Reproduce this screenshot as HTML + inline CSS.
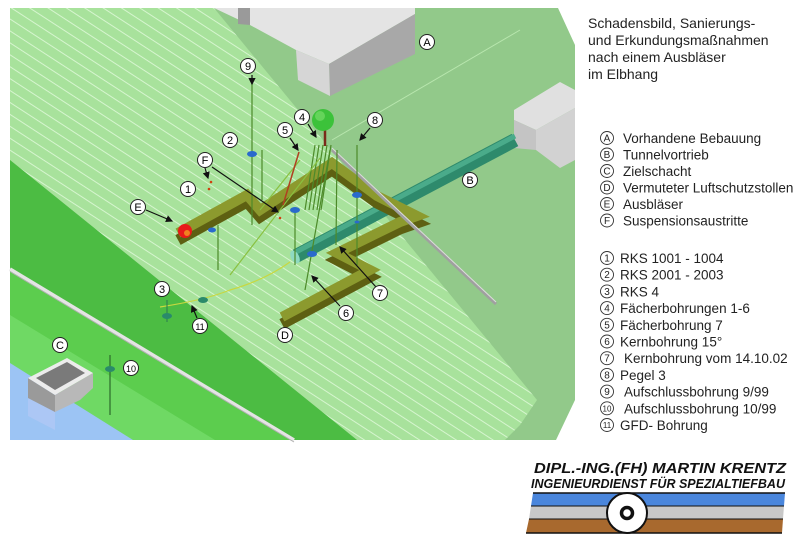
<!DOCTYPE html>
<html><head><meta charset="utf-8"><style>
html,body{margin:0;padding:0;background:#fff;}
svg{display:block;font-family:"Liberation Sans",sans-serif;}
</style></head><body>
<svg width="800" height="552" viewBox="0 0 800 552" xmlns="http://www.w3.org/2000/svg">
<defs>
<pattern id="st" width="40" height="10" patternUnits="userSpaceOnUse" patternTransform="rotate(33)">
<rect width="40" height="10" fill="#a8e29c"/>
<line x1="0" y1="0.5" x2="40" y2="0.5" stroke="#d6f5cf" stroke-width="1"/>
</pattern>
<marker id="ar" markerWidth="6" markerHeight="6" refX="5" refY="3" orient="auto"><path d="M0,0 L6,3 L0,6z" fill="#111"/></marker>
</defs>
<!-- plateau -->
<polygon points="10,8 558,8 575,45 575,400 556,440 10,440" fill="#92c98a"/>
<!-- slope striped -->
<polygon points="10,8 214,8 537,400 520,425 505,440 357,440 10,160" fill="url(#st)"/>
<!-- lower terrace -->
<polygon points="10,160 357,440 293,440 10,270" fill="#4cbc43"/>
<polygon points="10,270 293,440 10,440" fill="#5ccd4e"/>
<polygon points="10,315 215,440 10,440" fill="#6fd964"/>
<polygon points="10,363 133,440 10,440" fill="#9cc4f4"/>
<line x1="10" y1="269" x2="294" y2="440" stroke="#e4e4e4" stroke-width="3.5"/>
<line x1="10" y1="271.5" x2="294" y2="442" stroke="#b0b0b0" stroke-width="1"/>
<!-- plateau line -->
<line x1="332" y1="140" x2="520" y2="30" stroke="#b8e6ae" stroke-width="1"/>
<!-- building A -->
<polygon points="214,8 415,8 415,14 329,64 296,50 250,25" fill="#e4e4e4"/>
<polygon points="238,8 250,8 250,25 238,24" fill="#9a9a9a"/>
<polygon points="329,64 415,14 415,54 330,96" fill="#a8a8a8"/>
<polygon points="296,50 329,64 330,96 298,80" fill="#d6d6d6"/>
<!-- building right -->
<polygon points="514,110 560,82 575,90 575,108 536,130 514,120" fill="#e0e0e0"/>
<polygon points="514,120 536,130 536,150 514,148" fill="#c4c4c4"/>
<polygon points="536,130 575,108 575,160 560,168 536,150" fill="#d2d2d2"/>
<!-- tunnel -->
<line x1="296" y1="256" x2="515" y2="140" stroke="#2e8a6c" stroke-width="14"/>
<line x1="296" y1="252" x2="515" y2="136" stroke="#4aab8a" stroke-width="5"/>
<ellipse cx="295" cy="257" rx="4" ry="7" transform="rotate(-28 295 257)" fill="#8fdac0"/>
<!-- trench -->
<g fill="none" stroke-linejoin="miter">
<polyline points="178,235 247,197 260,212 332,165 377,198 417,218 400,224 337,255 370,272 282,319" stroke="#5e6012" stroke-width="11" transform="translate(0,5)"/>
<polyline points="178,233 247,195 260,210 332,163 377,196 417,216 400,222 337,253 370,270 282,317" stroke="#8c9a2e" stroke-width="10"/>
</g>
<!-- sheet pile wall -->
<line x1="332" y1="150" x2="496" y2="304" stroke="#a0a0a0" stroke-width="3"/>
<line x1="332" y1="148" x2="496" y2="302" stroke="#dcdcdc" stroke-width="1"/>
<!-- tree -->
<line x1="325" y1="128" x2="325" y2="146" stroke="#7a2a1a" stroke-width="2.5"/>
<circle cx="323" cy="120" r="11" fill="#3cc23a"/>
<circle cx="320" cy="116" r="5" fill="#7fe070" opacity="0.6"/>
<!-- borings -->
<g stroke="#4d8a2a" stroke-width="1.2">
<line x1="252" y1="84" x2="252" y2="225"/>
<line x1="262" y1="150" x2="262" y2="200"/>
<line x1="218" y1="225" x2="218" y2="270"/>
<line x1="295" y1="210" x2="295" y2="265"/>
<line x1="357" y1="145" x2="357" y2="265"/>
<line x1="337" y1="150" x2="336" y2="245"/>
<line x1="330" y1="150" x2="305" y2="290"/>
<line x1="315" y1="145" x2="305" y2="210"/>
<line x1="319" y1="145" x2="309" y2="210"/>
<line x1="323" y1="145" x2="313" y2="210"/>
<line x1="327" y1="145" x2="317" y2="210"/>
<line x1="331" y1="145" x2="321" y2="210"/>
<line x1="230" y1="275" x2="320" y2="158" stroke="#8ac040"/>
<line x1="260" y1="210" x2="300" y2="160" stroke="#8ac040"/>
</g>
<line x1="299" y1="152" x2="283" y2="205" stroke="#b04020" stroke-width="1.5"/>
<path d="M160,307 Q205,300 230,290 Q265,280 290,262" fill="none" stroke="#c8d840" stroke-width="1.2"/>
<line x1="167" y1="300" x2="167" y2="322" stroke="#2a7a50"/>
<line x1="110" y1="355" x2="110" y2="415" stroke="#2a6a2a" stroke-width="1.2"/>
<g fill="#2a6acc">
<ellipse cx="252" cy="154" rx="5" ry="3"/>
<ellipse cx="295" cy="210" rx="5" ry="3"/>
<ellipse cx="312" cy="254" rx="5" ry="3"/>
<ellipse cx="357" cy="195" rx="5" ry="3"/>
<ellipse cx="357" cy="222" rx="2.5" ry="1.5"/>
<ellipse cx="212" cy="230" rx="4" ry="2.5"/>
</g>
<g fill="#2a8a6a">
<ellipse cx="203" cy="300" rx="5" ry="3"/>
<ellipse cx="167" cy="316" rx="5" ry="3"/>
<ellipse cx="110" cy="369" rx="5" ry="3"/>
</g>
<circle cx="211" cy="182" r="1.3" fill="#d04010"/>
<circle cx="209" cy="189" r="1.3" fill="#d04010"/>
<circle cx="280" cy="218" r="1.3" fill="#d04010"/>
<!-- E -->
<circle cx="185" cy="231" r="7" fill="#e81a1a"/>
<circle cx="187" cy="233" r="3" fill="#f08020"/>
<!-- shaft C -->
<polygon points="28,398 55,412 55,430 28,416" fill="#b7c9f5" opacity="0.6"/>
<polygon points="28,378 55,395 55,412 28,398" fill="#9a9a9a"/>
<polygon points="55,395 93,373 93,388 80,400 55,412" fill="#b8b8b8"/>
<polygon points="28,378 67,358 93,373 55,395" fill="#ececec"/>
<polygon points="36,378 67,362 85,373 55,390" fill="#7a7a7a"/>
<!-- arrows -->
<g stroke="#111" stroke-width="1.2" marker-end="url(#ar)">
<line x1="252" y1="75" x2="252" y2="84"/>
<line x1="212" y1="167" x2="278" y2="212"/>
<line x1="205" y1="168" x2="208" y2="178"/>
<line x1="146" y1="210" x2="172" y2="221"/>
<line x1="290" y1="138" x2="298" y2="150"/>
<line x1="308" y1="124" x2="316" y2="137"/>
<line x1="370" y1="128" x2="360" y2="140"/>
<line x1="376" y1="287" x2="340" y2="247"/>
<line x1="340" y1="306" x2="312" y2="276"/>
<line x1="197" y1="318" x2="192" y2="306"/>
</g>
<!-- labels -->
<g font-size="11" text-anchor="middle" fill="#000">
<g fill="#fff" stroke="#222" stroke-width="1">
<circle cx="427" cy="42" r="7.5"/><circle cx="470" cy="180" r="7.5"/><circle cx="60" cy="345" r="7.5"/>
<circle cx="285" cy="335" r="7.5"/><circle cx="138" cy="207" r="7.5"/><circle cx="205" cy="160" r="7.5"/>
<circle cx="188" cy="189" r="7.5"/><circle cx="230" cy="140" r="7.5"/><circle cx="162" cy="289" r="7.5"/>
<circle cx="302" cy="117" r="7.5"/><circle cx="285" cy="130" r="7.5"/><circle cx="346" cy="313" r="7.5"/>
<circle cx="380" cy="293" r="7.5"/><circle cx="375" cy="120" r="7.5"/><circle cx="248" cy="66" r="7.5"/>
<circle cx="131" cy="368" r="7.5"/><circle cx="200" cy="326" r="7.5"/>
</g>
<text x="427" y="46">A</text><text x="470" y="184">B</text><text x="60" y="349">C</text>
<text x="285" y="339">D</text><text x="138" y="211">E</text><text x="205" y="164">F</text>
<text x="188" y="193">1</text><text x="230" y="144">2</text><text x="162" y="293">3</text>
<text x="302" y="121">4</text><text x="285" y="134">5</text><text x="346" y="317">6</text>
<text x="380" y="297">7</text><text x="375" y="124">8</text><text x="248" y="70">9</text>
<text x="131" y="372" font-size="9">10</text><text x="200" y="330" font-size="9">11</text>
</g>
<!-- title -->
<g font-size="14" fill="#222">
<text x="588" y="28">Schadensbild, Sanierungs-</text>
<text x="588" y="45">und Erkundungsmaßnahmen</text>
<text x="588" y="62">nach einem Ausbläser</text>
<text x="588" y="79">im Elbhang</text>
</g>
<!-- legend -->
<g font-size="13.5" fill="#222">
<g fill="none" stroke="#333" stroke-width="0.9">
<circle cx="607" cy="138" r="6.5"/><circle cx="607" cy="154.5" r="6.5"/><circle cx="607" cy="171" r="6.5"/>
<circle cx="607" cy="187.5" r="6.5"/><circle cx="607" cy="204" r="6.5"/><circle cx="607" cy="220.5" r="6.5"/>
<circle cx="607" cy="258" r="6.5"/><circle cx="607" cy="274.7" r="6.5"/><circle cx="607" cy="291.4" r="6.5"/>
<circle cx="607" cy="308.1" r="6.5"/><circle cx="607" cy="324.8" r="6.5"/><circle cx="607" cy="341.5" r="6.5"/>
<circle cx="607" cy="358.2" r="6.5"/><circle cx="607" cy="374.9" r="6.5"/><circle cx="607" cy="391.6" r="6.5"/>
<circle cx="607" cy="408.3" r="6.5"/><circle cx="607" cy="425" r="6.5"/>
</g>
<g font-size="10" text-anchor="middle">
<text x="607" y="141.5">A</text><text x="607" y="158">B</text><text x="607" y="174.5">C</text>
<text x="607" y="191">D</text><text x="607" y="207.5">E</text><text x="607" y="224">F</text>
<text x="607" y="261.5">1</text><text x="607" y="278.2">2</text><text x="607" y="294.9">3</text>
<text x="607" y="311.6">4</text><text x="607" y="328.3">5</text><text x="607" y="345">6</text>
<text x="607" y="361.7">7</text><text x="607" y="378.4">8</text><text x="607" y="395.1">9</text>
<text x="607" y="411.5" font-size="8">10</text><text x="607" y="428.2" font-size="8">11</text>
</g>
<text x="623" y="143">Vorhandene Bebauung</text>
<text x="623" y="159.5">Tunnelvortrieb</text>
<text x="623" y="176">Zielschacht</text>
<text x="623" y="192.5">Vermuteter Luftschutzstollen</text>
<text x="623" y="209">Ausbläser</text>
<text x="623" y="225.5">Suspensionsaustritte</text>
<text x="620" y="263">RKS 1001 - 1004</text>
<text x="620" y="279.7">RKS 2001 - 2003</text>
<text x="620" y="296.4">RKS 4</text>
<text x="620" y="313.1">Fächerbohrungen 1-6</text>
<text x="620" y="329.8">Fächerbohrung 7</text>
<text x="620" y="346.5">Kernbohrung 15°</text>
<text x="624" y="363.2">Kernbohrung vom 14.10.02</text>
<text x="620" y="379.9">Pegel 3</text>
<text x="624" y="396.6">Aufschlussbohrung 9/99</text>
<text x="624" y="413.3">Aufschlussbohrung 10/99</text>
<text x="620" y="430">GFD- Bohrung</text>
</g>
<!-- logo -->
<g font-weight="bold" font-style="italic" fill="#111">
<text x="534" y="473" font-size="15" textLength="252" lengthAdjust="spacingAndGlyphs">DIPL.-ING.(FH) MARTIN KRENTZ</text>
<text x="531" y="488" font-size="13" textLength="254" lengthAdjust="spacingAndGlyphs">INGENIEURDIENST FÜR SPEZIALTIEFBAU</text>
</g>
<polygon points="533,493 785,493 784,506 531,506" fill="#4a86dc"/>
<polygon points="531,506 784,506 783,519 529,519" fill="#c8c8c8"/>
<polygon points="529,519 783,519 782,533 526,533" fill="#a8692e"/>
<line x1="533" y1="493" x2="785" y2="493" stroke="#111" stroke-width="1.5"/>
<line x1="531" y1="506" x2="784" y2="506" stroke="#111" stroke-width="1"/>
<line x1="529" y1="519" x2="783" y2="519" stroke="#111" stroke-width="1"/>
<line x1="526" y1="533" x2="782" y2="533" stroke="#111" stroke-width="1.5"/>
<circle cx="627" cy="513" r="20" fill="#fff" stroke="#111" stroke-width="2"/>
<circle cx="627" cy="513" r="5.5" fill="#fff" stroke="#111" stroke-width="3.5"/>
</svg>
</body></html>
